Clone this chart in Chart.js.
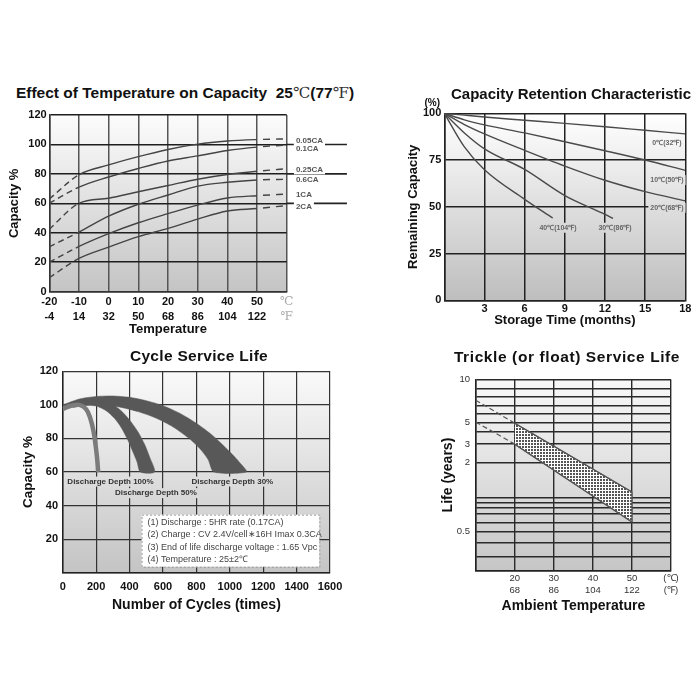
<!DOCTYPE html>
<html>
<head>
<meta charset="utf-8">
<script src="https://cdn.jsdelivr.net/npm/chart.js@4.4.1/dist/chart.umd.min.js"></script>
<style>
  html, body { margin: 0; padding: 0; background: #fff; }
  #page { position: relative; width: 700px; height: 700px; overflow: hidden; font-family: 'Liberation Sans', Arial, sans-serif; }
  canvas { position: absolute; }
  .ttl { position: absolute; font-weight: bold; color: #111; text-align: center; white-space: pre; line-height: 18px; }
  .deg { font-weight: normal; font-family: 'DejaVu Serif', serif; color: #333; }
</style>
</head>
<body>
<div id="page">
  <canvas id="tempChart" width="360" height="235" style="left:0;top:105px;width:360px;height:235px"></canvas>
  <canvas id="retChart" width="300" height="235" style="left:400px;top:95px;width:300px;height:235px"></canvas>
  <canvas id="cycleChart" width="350" height="255" style="left:0;top:360px;width:350px;height:255px"></canvas>
  <canvas id="floatChart" width="280" height="250" style="left:420px;top:368px;width:280px;height:250px"></canvas>

  <div class="ttl" style="left:0;width:370px;top:84px;font-size:15.5px">Effect of Temperature on Capacity  25<span class="deg">℃</span>(77<span class="deg">℉</span>)</div>
  <div class="ttl" style="left:450px;width:242px;top:85px;font-size:15px">Capacity Retention Characteristic</div>
  <div class="ttl" style="left:99px;width:200px;top:347px;font-size:15.5px;letter-spacing:0.3px">Cycle Service Life</div>
  <div class="ttl" style="left:447px;width:240px;top:348px;font-size:15.5px;letter-spacing:0.6px">Trickle (or float) Service Life</div>
</div>
<script>
// ---------- Effect of Temperature on Capacity ----------
const CAP_TEMP_C = [-20, -10, 0, 10, 20, 30, 40, 50, 60];
const CAP_TICK_C = ['-20', '-10', '0', '10', '20', '30', '40', '50', '℃'];
const CAP_TICK_F = ['-4', '14', '32', '50', '68', '86', '104', '122', '℉'];
const CAP_RATES = ['0.05CA', '0.1CA', '0.25CA', '0.6CA', '1CA', '2CA'];
const CAP_005CA = [63, 79.4, 86.1, 91.7, 96.6, 100.2, 102.3, 103.3, 103.8];
const CAP_01CA = [60, 71, 77.9, 83.7, 88.8, 92.2, 95.9, 98.2, 99.6];
const CAP_025CA = [42.5, 60, 63.5, 67.9, 72.1, 76.4, 79.6, 81.8, 83.5];
const CAP_06CA = [30.5, 40.5, 51.3, 59.4, 65.7, 71.7, 74.3, 75.9, 76.3];
const CAP_1CA = [20, 30.7, 39.4, 46.8, 53, 58.8, 63.6, 65.2, 66.3];
const CAP_2CA = [9.5, 22.6, 30.3, 37.4, 43, 49.3, 54.8, 56.5, 58.5];
const CAP_LABEL_Y = [102.3, 96.9, 83.1, 75.9, 65.5, 57.7];
const CAP_EXT_GRID = [60, 80, 100];

// ---------- Capacity Retention Characteristic ----------
const RET_LABELS = ['0℃(32℉)', '10℃(50℉)', '20℃(68℉)', '30℃(86℉)', '40℃(104℉)'];
const RET_MONTHS = [0, 1.5, 3, 6, 9, 12, 15, 18];
const RET_0C = [100, 99, 98, 96.3, 94.6, 92.8, 90.9, 89];
const RET_10C = [100, 96.5, 93.8, 89.5, 84.8, 80, 75, 69.5];
const RET_20C = [100, 94, 89, 80.2, 71.8, 64.2, 58.1, 53.2];
const RET_30C_MONTHS = [0, 1.5, 3, 6, 9, 12, 12.6];
const RET_30C = [100, 89.5, 81, 70, 56, 46, 43.8];
const RET_40C_MONTHS = [0, 1.5, 3, 6, 8.1];
const RET_40C = [100, 82, 69.8, 54, 44];
const RET_LABEL_X = [16.63, 16.63, 16.63, 12.75, 8.49];
const RET_LABEL_Y = [84.3, 64.3, 49.5, 38.8, 38.8];

// ---------- Cycle Service Life ----------
const DD100_CYCLES = [0, 50, 100, 140, 165, 185, 198, 207, 212];
const DD100_CAP = [97.5, 99.5, 100, 97.5, 92, 84, 75, 67, 60];
const DD50_OUTER_CYCLES = [0, 100, 200, 290, 350, 400, 450, 490, 520, 550];
const DD50_OUTER_CAP = [99.5, 101.8, 102.5, 100.5, 96.5, 91, 84, 76.5, 69, 60];
const DD50_INNER_CYCLES = [40, 120, 200, 260, 310, 350, 390, 420, 445, 465];
const DD50_INNER_CAP = [98.5, 100, 99.3, 96.5, 92, 86.5, 79, 72, 66, 60];
const DD30_OUTER_CYCLES = [0, 100, 200, 300, 400, 500, 600, 700, 800, 900, 1000, 1060, 1100];
const DD30_OUTER_CAP = [100, 103.5, 105, 105.3, 104.5, 102.5, 99.5, 95, 89, 81.5, 72, 65.5, 60];
const DD30_INNER_CYCLES = [60, 150, 250, 350, 450, 550, 650, 750, 820, 870, 905];
const DD30_INNER_CAP = [98.5, 99.8, 99.8, 98.5, 96, 92.5, 87.5, 80.5, 74, 67.5, 60];
const DD_LABELS = ['Discharge Depth 100%', 'Discharge Depth 50%', 'Discharge Depth 30%'];
const DD_LABEL_X = [286, 558, 1015];
const DD_LABEL_Y = [54.3, 47.4, 54.3];
const CYCLE_NOTES = [
  '(1) Discharge : 5HR rate (0.17CA)',
  '(2) Charge : CV 2.4V/cell∗16H Imax 0.3CA',
  '(3) End of life discharge voltage : 1.65 Vpc',
  '(4) Temperature : 25±2℃'
];

// ---------- Trickle (or float) Service Life ----------
const FLOAT_TEMP = [10, 20, 50];
const FLOAT_LIFE_HIGH = [6.7, 4.3, 1.14];
const FLOAT_LIFE_LOW = [4.4, 2.87, 0.64];
const LIFE_GRID = [0.25, 0.33, 0.425, 0.53, 0.63, 0.75, 0.84, 0.93, 1.03, 2, 2.87, 3.63, 4.38, 5.16, 6.08, 7.17, 8.4, 10];
const LIFE_GRID_LABELS = ['', '', '', '0.5', '', '', '', '', '', '2', '3', '', '5', '', '', '', '', '10'];
const FLOAT_TICK_C = ['', '20', '30', '40', '50', '(℃)'];
const FLOAT_TICK_F = ['', '68', '86', '104', '122', '(℉)'];


Chart.defaults.font.family = "'Liberation Sans', Arial, sans-serif";
Chart.defaults.color = '#111';
Chart.defaults.animation = false;
Chart.defaults.plugins.legend.display = false;
Chart.defaults.plugins.tooltip.enabled = false;
Chart.defaults.elements.point.radius = 0;

const pts = (xs, ys) => xs.map((x, i) => ({ x: x, y: ys[i] }));

// grey gradient behind the plot
const plotBg = {
  id: 'plotBg',
  beforeDraw(chart, args, opts) {
    const { ctx, chartArea: a } = chart;
    const g = ctx.createLinearGradient(0, a.top, 0, a.bottom);
    g.addColorStop(0, opts.from);
    g.addColorStop(1, opts.to);
    chart.$plotFill = g;
    ctx.save();
    ctx.fillStyle = g;
    ctx.fillRect(a.left, a.top, a.width, a.height);
    ctx.restore();
  }
};

// small texts placed in data units, with a patch behind that hides the grid
const notes = {
  id: 'notes',
  afterDatasetsDraw(chart, args, opts) {
    const { ctx, scales: { x, y } } = chart;
    ctx.save();
    ctx.textBaseline = 'middle';
    (opts.items || []).forEach(n => {
      ctx.font = n.font || opts.font;
      const px = x.getPixelForValue(n.x), py = y.getPixelForValue(n.y);
      const w = ctx.measureText(n.text).width;
      const left = n.align === 'left' ? px : px - w / 2;
      if (opts.patch) {
        ctx.fillStyle = opts.patch === 'plot' ? chart.$plotFill : opts.patch;
        ctx.fillRect(left - 2, py - 5, w + 4, 10);
      }
      ctx.fillStyle = n.color || opts.color;
      ctx.fillText(n.text, left, py);
    });
    ctx.restore();
  }
};

// grid lines of the first chart that run on past the plot, under the rate labels
const gridRunOn = {
  id: 'gridRunOn',
  afterDatasetsDraw(chart, args, opts) {
    const { ctx, scales: { x, y } } = chart;
    ctx.save();
    ctx.strokeStyle = '#222';
    ctx.lineWidth = 1.6;
    opts.values.forEach(v => {
      const py = y.getPixelForValue(v);
      ctx.beginPath();
      ctx.moveTo(x.getPixelForValue(opts.from), py);
      ctx.lineTo(x.getPixelForValue(opts.to), py);
      ctx.stroke();
    });
    ctx.restore();
  }
};

// dashed box with test conditions
const condBox = {
  id: 'condBox',
  afterDatasetsDraw(chart, args, opts) {
    const { ctx, scales: { x, y } } = chart;
    const l = x.getPixelForValue(opts.x0), r = x.getPixelForValue(opts.x1);
    const t = y.getPixelForValue(opts.y0), b = y.getPixelForValue(opts.y1);
    ctx.save();
    ctx.fillStyle = '#fff';
    ctx.fillRect(l, t, r - l, b - t);
    ctx.setLineDash([2, 2]);
    ctx.strokeStyle = '#999';
    ctx.lineWidth = 1;
    ctx.strokeRect(l + 0.5, t + 0.5, r - l, b - t);
    ctx.setLineDash([]);
    ctx.fillStyle = '#444';
    ctx.font = "9px 'Liberation Sans', Arial, sans-serif";
    ctx.textBaseline = 'middle';
    opts.lines.forEach((s, i) => ctx.fillText(s, l + 6, t + 8 + i * 12.3));
    ctx.restore();
  }
};

const boldTick = { size: 11, weight: 'bold' };
const axisTitleFont = { size: 13, weight: 'bold' };

// ===== 1. Effect of Temperature on Capacity =====
const capSeries = [CAP_005CA, CAP_01CA, CAP_025CA, CAP_06CA, CAP_1CA, CAP_2CA];
const lastCap = CAP_TEMP_C.length - 1;
new Chart(document.getElementById('tempChart'), {
  type: 'line',
  data: {
    datasets: capSeries.map(s => ({
      data: pts(CAP_TEMP_C, s),
      borderColor: '#444',
      borderWidth: 1.4,
      cubicInterpolationMode: 'monotone',
      segment: {
        borderDash: c => c.p0DataIndex === 0 ? [6, 4] : (c.p1DataIndex === lastCap ? [7, 6] : undefined),
        borderDashOffset: c => c.p1DataIndex === lastCap ? 7 : undefined
      }
    }))
  },
  options: {
    responsive: false,
    layout: { padding: { top: 10, right: 73.3, left: 0, bottom: 0 } },
    scales: {
      x: {
        type: 'linear', min: -20, max: 60,
        afterFit: s => { s.height = 48.3; },
        ticks: {
          stepSize: 10, padding: 2.5, autoSkip: false, maxRotation: 0,
          font: c => c.index === lastCap
            ? { size: 12, weight: 'normal', family: "'DejaVu Serif', serif", lineHeight: 15 / 12 }
            : { size: 11, weight: 'bold', lineHeight: 15 / 11 },
          color: c => c.index === lastCap ? '#aaa' : '#111',
          callback: (v, i) => [CAP_TICK_C[i], CAP_TICK_F[i]]
        },
        grid: { color: '#555', lineWidth: 1.5, drawTicks: false },
        border: { color: '#333', width: 1.5 },
        title: { display: true, text: 'Temperature', font: axisTitleFont, padding: { top: 0, bottom: 3.2 } }
      },
      y: {
        min: 0, max: 120,
        afterFit: s => { s.width = 49.3; },
        ticks: { stepSize: 20, padding: 2.6, font: boldTick },
        grid: { color: '#1e1e1e', lineWidth: 1.6, drawTicks: false },
        border: { color: '#333', width: 1.5 },
        title: { display: true, text: 'Capacity %', font: axisTitleFont, padding: { top: 6.2, bottom: 0 } }
      }
    },
    plugins: {
      plotBg: { from: '#fcfcfc', to: '#c4c4c4' },
      gridRunOn: { values: CAP_EXT_GRID, from: 60, to: 80.3 },
      notes: {
        font: "bold 8px 'Liberation Sans', Arial, sans-serif",
        color: '#555',
        patch: '#fff',
        items: CAP_RATES.map((r, i) => ({ x: 63.1, y: CAP_LABEL_Y[i], text: r, align: 'left' }))
      }
    }
  },
  plugins: [plotBg, gridRunOn, notes]
});

// ===== 2. Capacity Retention Characteristic =====
const retData = [
  pts(RET_MONTHS, RET_0C),
  pts(RET_MONTHS, RET_10C),
  pts(RET_MONTHS, RET_20C),
  pts(RET_30C_MONTHS, RET_30C),
  pts(RET_40C_MONTHS, RET_40C)
];
new Chart(document.getElementById('retChart'), {
  type: 'line',
  data: {
    datasets: retData.map(d => ({
      data: d, borderColor: '#4a4a4a', borderWidth: 1.4, cubicInterpolationMode: 'monotone'
    }))
  },
  options: {
    responsive: false,
    layout: { padding: { top: 18.3, right: 14.7, left: 0, bottom: 0 } },
    scales: {
      x: {
        type: 'linear', min: 0, max: 18,
        afterFit: s => { s.height = 29.7; },
        ticks: { stepSize: 3, padding: 2.4, font: boldTick, autoSkip: false, maxRotation: 0,
                 callback: v => v === 0 ? '' : String(v) },
        grid: { color: '#222', lineWidth: 1.5, drawTicks: false },
        border: { color: '#222', width: 1.5 },
        title: { display: true, text: 'Storage Time (months)', font: axisTitleFont, padding: { top: 0, bottom: 2.2 } }
      },
      y: {
        min: 0, max: 100,
        afterFit: s => { s.width = 44.3; },
        ticks: { stepSize: 25, padding: 3, font: boldTick },
        grid: { color: '#222', lineWidth: 1.5, drawTicks: false },
        border: { color: '#222', width: 1.5 },
        title: { display: true, text: 'Remaining Capacity', font: axisTitleFont, padding: { top: 5.2, bottom: 0 } }
      }
    },
    plugins: {
      plotBg: { from: '#ffffff', to: '#bebebe' },
      notes: {
        font: "bold 7px 'Liberation Sans', Arial, sans-serif",
        color: '#666',
        patch: 'plot',
        items: RET_LABELS.map((t, i) => ({ x: RET_LABEL_X[i], y: RET_LABEL_Y[i], text: t }))
          .concat([{ x: -0.9, y: 105.5, text: '(%)', color: '#111',
                     font: "bold 10px 'Liberation Sans', Arial, sans-serif" }])
      }
    }
  },
  plugins: [plotBg, notes]
});

// ===== 3. Cycle Service Life =====
const band = (ox, oy, ix, iy) => pts(ox, oy).concat(pts(ix, iy).reverse());
new Chart(document.getElementById('cycleChart'), {
  type: 'line',
  data: {
    datasets: [
      { data: pts(DD100_CYCLES, DD100_CAP), borderColor: '#7b7b7b', borderWidth: 4.5, tension: 0.4, borderCapStyle: 'butt' },
      { data: band(DD50_OUTER_CYCLES, DD50_OUTER_CAP, DD50_INNER_CYCLES, DD50_INNER_CAP),
        fill: 'shape', backgroundColor: '#585858', borderColor: '#585858', borderWidth: 0.5, tension: 0.25 },
      { data: band(DD30_OUTER_CYCLES, DD30_OUTER_CAP, DD30_INNER_CYCLES, DD30_INNER_CAP),
        fill: 'shape', backgroundColor: '#585858', borderColor: '#585858', borderWidth: 0.5, tension: 0.25 }
    ]
  },
  options: {
    responsive: false,
    layout: { padding: { top: 10, right: 14, left: 0, bottom: 0 } },
    scales: {
      x: {
        type: 'linear', min: 0, max: 1600,
        afterFit: s => { s.height = 42.3; },
        ticks: { stepSize: 200, padding: 7.7, font: boldTick, autoSkip: false, maxRotation: 0,
                 callback: v => String(v) },
        grid: { color: '#333', lineWidth: 1.2, drawTicks: false },
        border: { color: '#222', width: 1.5 },
        title: { display: true, text: 'Number of Cycles (times)', font: { size: 14, weight: 'bold' }, padding: { top: 0, bottom: 1.6 } }
      },
      y: {
        min: 0, max: 120,
        afterFit: s => { s.width = 62.7; },
        ticks: { stepSize: 20, padding: 4.7, font: boldTick, callback: v => v === 0 ? '' : String(v) },
        grid: { color: '#333', lineWidth: 1.2, drawTicks: false },
        border: { color: '#222', width: 1.5 },
        title: { display: true, text: 'Capacity %', font: { size: 13.5, weight: 'bold' }, padding: { top: 19.9, bottom: 0 } }
      }
    },
    plugins: {
      plotBg: { from: '#fafafa', to: '#c4c4c4' },
      notes: {
        font: "bold 8px 'Liberation Sans', Arial, sans-serif",
        color: '#333',
        patch: 'plot',
        items: DD_LABELS.map((t, i) => ({ x: DD_LABEL_X[i], y: DD_LABEL_Y[i], text: t }))
      },
      condBox: { x0: 472, x1: 1536, y0: 34.6, y1: 3.55, lines: CYCLE_NOTES }
    }
  },
  plugins: [plotBg, notes, condBox]
});

// ===== 4. Trickle (or float) Service Life =====
const dots = document.createElement('canvas');
dots.width = 3; dots.height = 3;
const dctx = dots.getContext('2d');
dctx.fillStyle = '#fff';
dctx.fillRect(0, 0, 3, 3);
dctx.fillStyle = '#555';
dctx.fillRect(0, 0, 2, 2);
const dotPattern = dctx.createPattern(dots, 'repeat');

const floatBand = pts(FLOAT_TEMP.slice(1), FLOAT_LIFE_HIGH.slice(1))
  .concat(pts(FLOAT_TEMP.slice(1), FLOAT_LIFE_LOW.slice(1)).reverse());
const dashFirst = { borderDash: c => c.p0DataIndex === 0 ? [5, 3] : undefined };

new Chart(document.getElementById('floatChart'), {
  type: 'line',
  data: {
    datasets: [
      { data: pts(FLOAT_TEMP, FLOAT_LIFE_HIGH), borderColor: '#555', borderWidth: 1.2, segment: dashFirst },
      { data: pts(FLOAT_TEMP, FLOAT_LIFE_LOW), borderColor: '#555', borderWidth: 1.2, segment: dashFirst },
      { data: floatBand, fill: 'shape', backgroundColor: dotPattern, borderColor: '#555', borderWidth: 1.2 }
    ]
  },
  options: {
    responsive: false,
    layout: { padding: { top: 7.7, right: 29, left: 0, bottom: 0 } },
    scales: {
      x: {
        type: 'linear', min: 10, max: 60,
        afterFit: s => { s.height = 47.3; },
        ticks: { stepSize: 10, padding: 1.75, autoSkip: false, maxRotation: 0, color: '#333',
                 font: { size: 9.5, lineHeight: 11.7 / 9.5 },
                 callback: (v, i) => [FLOAT_TICK_C[i], FLOAT_TICK_F[i]] },
        grid: { color: '#2a2a2a', lineWidth: 1.4, drawTicks: false },
        border: { color: '#222', width: 1.5 },
        title: { display: true, text: 'Ambient Temperature', font: { size: 14, weight: 'bold' }, padding: { top: 0, bottom: 3.9 } }
      },
      y: {
        type: 'logarithmic', min: 0.25, max: 10,
        afterBuildTicks: s => { s.ticks = LIFE_GRID.map(v => ({ value: v })); },
        afterFit: s => { s.width = 55.7; },
        ticks: { autoSkip: false, padding: 5.7, color: '#333', font: { size: 9.5 },
                 callback: (v, i) => LIFE_GRID_LABELS[i] },
        grid: { color: '#2a2a2a', lineWidth: 1.4, drawTicks: false },
        border: { color: '#222', width: 1.5 },
        title: { display: true, text: 'Life (years)', font: { size: 14, weight: 'bold' }, padding: { top: 19.6, bottom: 0 } }
      }
    },
    plugins: {
      plotBg: { from: '#f8f8f8', to: '#c6c6c6' }
    }
  },
  plugins: [plotBg]
});
</script>
</body>
</html>
